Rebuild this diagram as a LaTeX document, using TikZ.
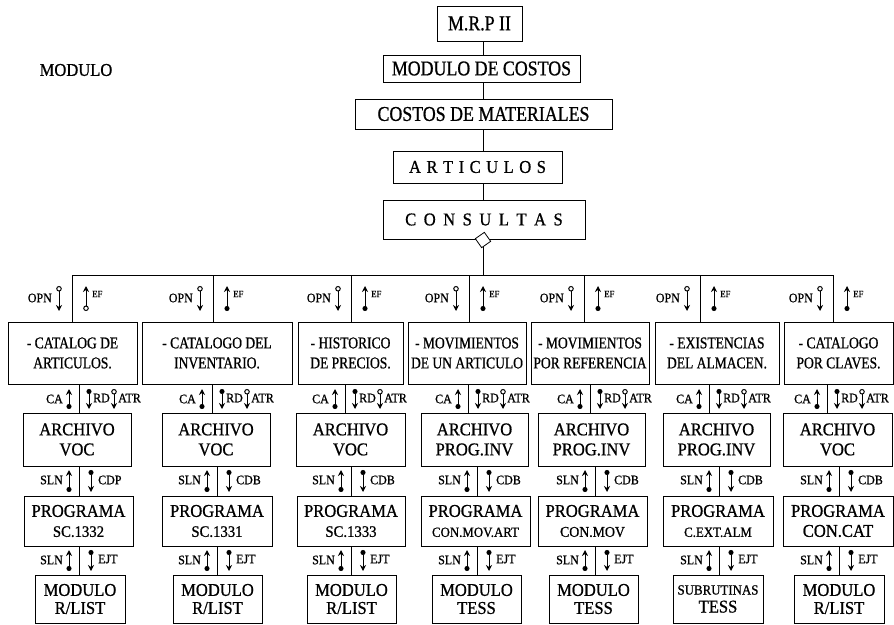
\documentclass[tikz,border=0pt]{standalone}
\usepackage{fontspec}
\setmainfont{Liberation Serif}[FakeStretch=0.92,FakeBold=0.8]
\newfontfamily\topf{Liberation Serif}[FakeStretch=0.85,FakeBold=0.8]
\newfontfamily\narf{Liberation Serif}[FakeStretch=0.82,FakeBold=0.8]
\usetikzlibrary{arrows.meta,calc}
\newcommand\fs[1]{\fontsize{#1}{#1}\selectfont}
\begin{document}
\begin{tikzpicture}[x=1pt,y=-1pt,
  box/.style={draw, line width=0.8pt, inner sep=0pt, align=center},
  topbox/.style={box, font=\topf\fontsize{21}{24}\selectfont},
  spbox/.style={box, font=\fontsize{18}{20}\selectfont},
  l1box/.style={box, minimum height=62pt, font=\narf\fontsize{16.5}{20}\selectfont},
  l2box/.style={box, minimum height=53pt, font=\fontsize{18}{20}\selectfont},
  l3box/.style={box, minimum height=50pt, font=\fontsize{18}{20}\selectfont},
  l4box/.style={box, minimum height=48pt, font=\fontsize{18}{18}\selectfont},
  lab/.style={inner sep=0pt, font=\fontsize{13}{13}\selectfont},
  tinylab/.style={inner sep=0pt, font=\fontsize{9.5}{9.5}\selectfont},
  wire/.style={line width=0.8pt},
  cpl/.style={line width=1pt},
  odown/.style={cpl, {Circle[open,length=5.5pt,width=5.5pt]}-{Stealth[length=6pt,width=6pt]}},
  fdown/.style={cpl, {Circle[length=5pt,width=5pt]}-{Stealth[length=6pt,width=6pt]}},
  oup/.style={cpl, {Circle[open,length=5.5pt,width=5.5pt]}-{Stealth[length=6pt,width=6pt]}},
  fup/.style={cpl, {Circle[length=5pt,width=5pt]}-{Stealth[length=6pt,width=6pt]}},
]
\useasboundingbox (0,0) rectangle (894,624);
\fill[white] (0,0) rectangle (894,624);

% title
\node[inner sep=0pt, font=\fontsize{18}{18}\selectfont] (title) at (76,70) {MODULO};

% top chain
\node[topbox, minimum width=85pt, minimum height=35pt] (mrp) at (479.5,23.5) {M.R.P II};
\node[topbox, minimum width=197pt, minimum height=27pt] (mdc) at (481.5,68.5) {MODULO DE COSTOS};
\node[topbox, minimum width=257pt, minimum height=30pt] (cdm) at (483.5,114) {COSTOS DE MATERIALES};
\node[spbox, minimum width=169pt, minimum height=32pt] (art) at (477.5,167)
  {A\kern5.5pt R\kern5.5pt T\kern5.5pt I\kern5.5pt C\kern5.5pt U\kern5.5pt L\kern5.5pt O\kern5.5pt S};
\node[spbox, minimum width=202pt, minimum height=39pt] (cons) at (484,219.5)
  {C\kern7.5pt O\kern7.5pt N\kern7.5pt S\kern7.5pt U\kern7.5pt L\kern7.5pt T\kern7.5pt A\kern7.5pt S};

\coordinate (sp) at (483,0);
\draw[wire] (sp |- mrp.south) -- (sp |- mdc.north);
\draw[wire] (sp |- mdc.south) -- (sp |- cdm.north);
\draw[wire] (sp |- cdm.south) -- (sp |- art.north);
\draw[wire] (sp |- art.south) -- (sp |- cons.north);

% bus
\foreach \k/\d in {1/72,2/213,3/351,4/469,5/584,6/700,7/833}
  \coordinate (bus\k) at (\d,275);
\draw[wire] (bus1) -- (bus7);
\draw[wire] (sp |- cons.south) -- (sp |- bus1);
\node[draw, line width=0.8pt, fill=white, minimum size=11pt, inner sep=0pt, rotate=35] (dia) at (483,240) {};

% level 1
\node[l1box, minimum width=129pt] (L1-1) at (72.5,353) {- CATALOG DE\\ARTICULOS.};
\node[l1box, minimum width=150pt] (L1-2) at (217,353) {- CATALOGO DEL\\INVENTARIO.};
\node[l1box, minimum width=105pt] (L1-3) at (350.5,353) {- HISTORICO\\DE PRECIOS.};
\node[l1box, minimum width=118pt] (L1-4) at (467,353) {- MOVIMIENTOS\\DE UN ARTICULO};
\node[l1box, minimum width=118pt] (L1-5) at (590,353) {- MOVIMIENTOS\\POR REFERENCIA};
\node[l1box, minimum width=124pt] (L1-6) at (717,353) {- EXISTENCIAS\\DEL ALMACEN.};
\node[l1box, minimum width=109pt] (L1-7) at (838.5,353) {- CATALOGO\\POR CLAVES.};

% level 2
\node[l2box, minimum width=108pt] (L2-1) at (77,439.5) {ARCHIVO\\VOC};
\node[l2box, minimum width=108pt] (L2-2) at (216,439.5) {ARCHIVO\\VOC};
\node[l2box, minimum width=109pt] (L2-3) at (350.5,439.5) {ARCHIVO\\VOC};
\node[l2box, minimum width=107pt] (L2-4) at (474.5,439.5) {ARCHIVO\\PROG.INV};
\node[l2box, minimum width=107pt] (L2-5) at (591.5,439.5) {ARCHIVO\\PROG.INV};
\node[l2box, minimum width=107pt] (L2-6) at (716.5,439.5) {ARCHIVO\\PROG.INV};
\node[l2box, minimum width=109pt] (L2-7) at (837.5,439.5) {ARCHIVO\\VOC};

% level 3
\node[l3box, minimum width=109pt] (L3-1) at (78.5,521) {PROGRAMA\\{\fs{16}SC.1332}};
\node[l3box, minimum width=110pt] (L3-2) at (217,521) {PROGRAMA\\{\fs{16}SC.1331}};
\node[l3box, minimum width=108pt] (L3-3) at (351,521) {PROGRAMA\\{\fs{16}SC.1333}};
\node[l3box, minimum width=109pt] (L3-4) at (475.5,521) {PROGRAMA\\{\fs{14}CON.MOV.ART}};
\node[l3box, minimum width=109pt] (L3-5) at (592.5,521) {PROGRAMA\\{\fs{15}CON.MOV}};
\node[l3box, minimum width=110pt] (L3-6) at (718,521) {PROGRAMA\\{\fs{14}C.EXT.ALM}};
\node[l3box, minimum width=110pt] (L3-7) at (838,521) {PROGRAMA\\CON.CAT};

% level 4
\node[l4box, minimum width=90pt] (L4-1) at (80,599) {MODULO\\R/LIST};
\node[l4box, minimum width=89pt] (L4-2) at (217.5,599) {MODULO\\R/LIST};
\node[l4box, minimum width=89pt] (L4-3) at (351.5,599) {MODULO\\R/LIST};
\node[l4box, minimum width=89pt] (L4-4) at (476.5,599) {MODULO\\TESS};
\node[l4box, minimum width=89pt] (L4-5) at (593.5,599) {MODULO\\TESS};
\node[l4box, minimum width=90pt] (L4-6) at (718,599) {{\fs{14}SUBRUTINAS}\\TESS};
\node[l4box, minimum width=90pt] (L4-7) at (839,599) {MODULO\\R/LIST};

% connectors and couples
\foreach \k/\d/\u/\l/\cd/\efs in {1/72/79/79/CDP/oup, 2/213/212/217/CDB/fup, 3/351/345/351/CDB/fup,
    4/469/468/477/CDB/fup, 5/584/590/595/CDB/fup, 6/700/709/719/CDB/fup, 7/833/827/839/CDB/fup} {
  \draw[wire] (bus\k) -- (bus\k |- L1-\k.north);
  \draw[odown] (\d-13,286) -- (\d-13,311);
  \node[lab, anchor=east] (opn\k) at (\d-20,298) {OPN};
  \draw[\efs] (\d+14,311) -- (\d+14,286);
  \node[tinylab, anchor=west] (ef\k) at (\d+20,294) {EF};
  % level 1 -> 2
  \coordinate (u\k) at (\u,0);
  \draw[wire] (u\k |- L1-\k.south) -- (u\k |- L2-\k.north);
  \draw[fup] (\u-10,409) -- (\u-10,389);
  \node[lab, anchor=east] (ca\k) at (\u-16,399) {CA};
  \draw[fdown] (\u+10,389) -- (\u+10,409);
  \node[lab, anchor=west] (rd\k) at (\u+14,398) {RD};
  \draw[odown] (\u+35,389) -- (\u+35,409);
  \node[lab, anchor=west] (atr\k) at (\u+39,398) {ATR};
  % level 2 -> 3
  \coordinate (l\k) at (\l,0);
  \draw[wire] (l\k |- L2-\k.south) -- (l\k |- L3-\k.north);
  \draw[fup] (\l-10,492) -- (\l-10,470);
  \node[lab, anchor=east] (slna\k) at (\l-16,480) {SLN};
  \draw[fdown] (\l+12,470) -- (\l+12,492);
  \node[lab, anchor=west] (cdb\k) at (\l+19,480) {\cd};
  % level 3 -> 4
  \draw[wire] (l\k |- L3-\k.south) -- (l\k |- L4-\k.north);
  \draw[fup] (\l-10,571) -- (\l-10,550);
  \node[lab, anchor=east] (slnb\k) at (\l-16,560) {SLN};
  \draw[fdown] (\l+12,550) -- (\l+12,571);
  \node[lab, anchor=west] (ejt\k) at (\l+19,559) {EJT};
}
\end{tikzpicture}
\end{document}
